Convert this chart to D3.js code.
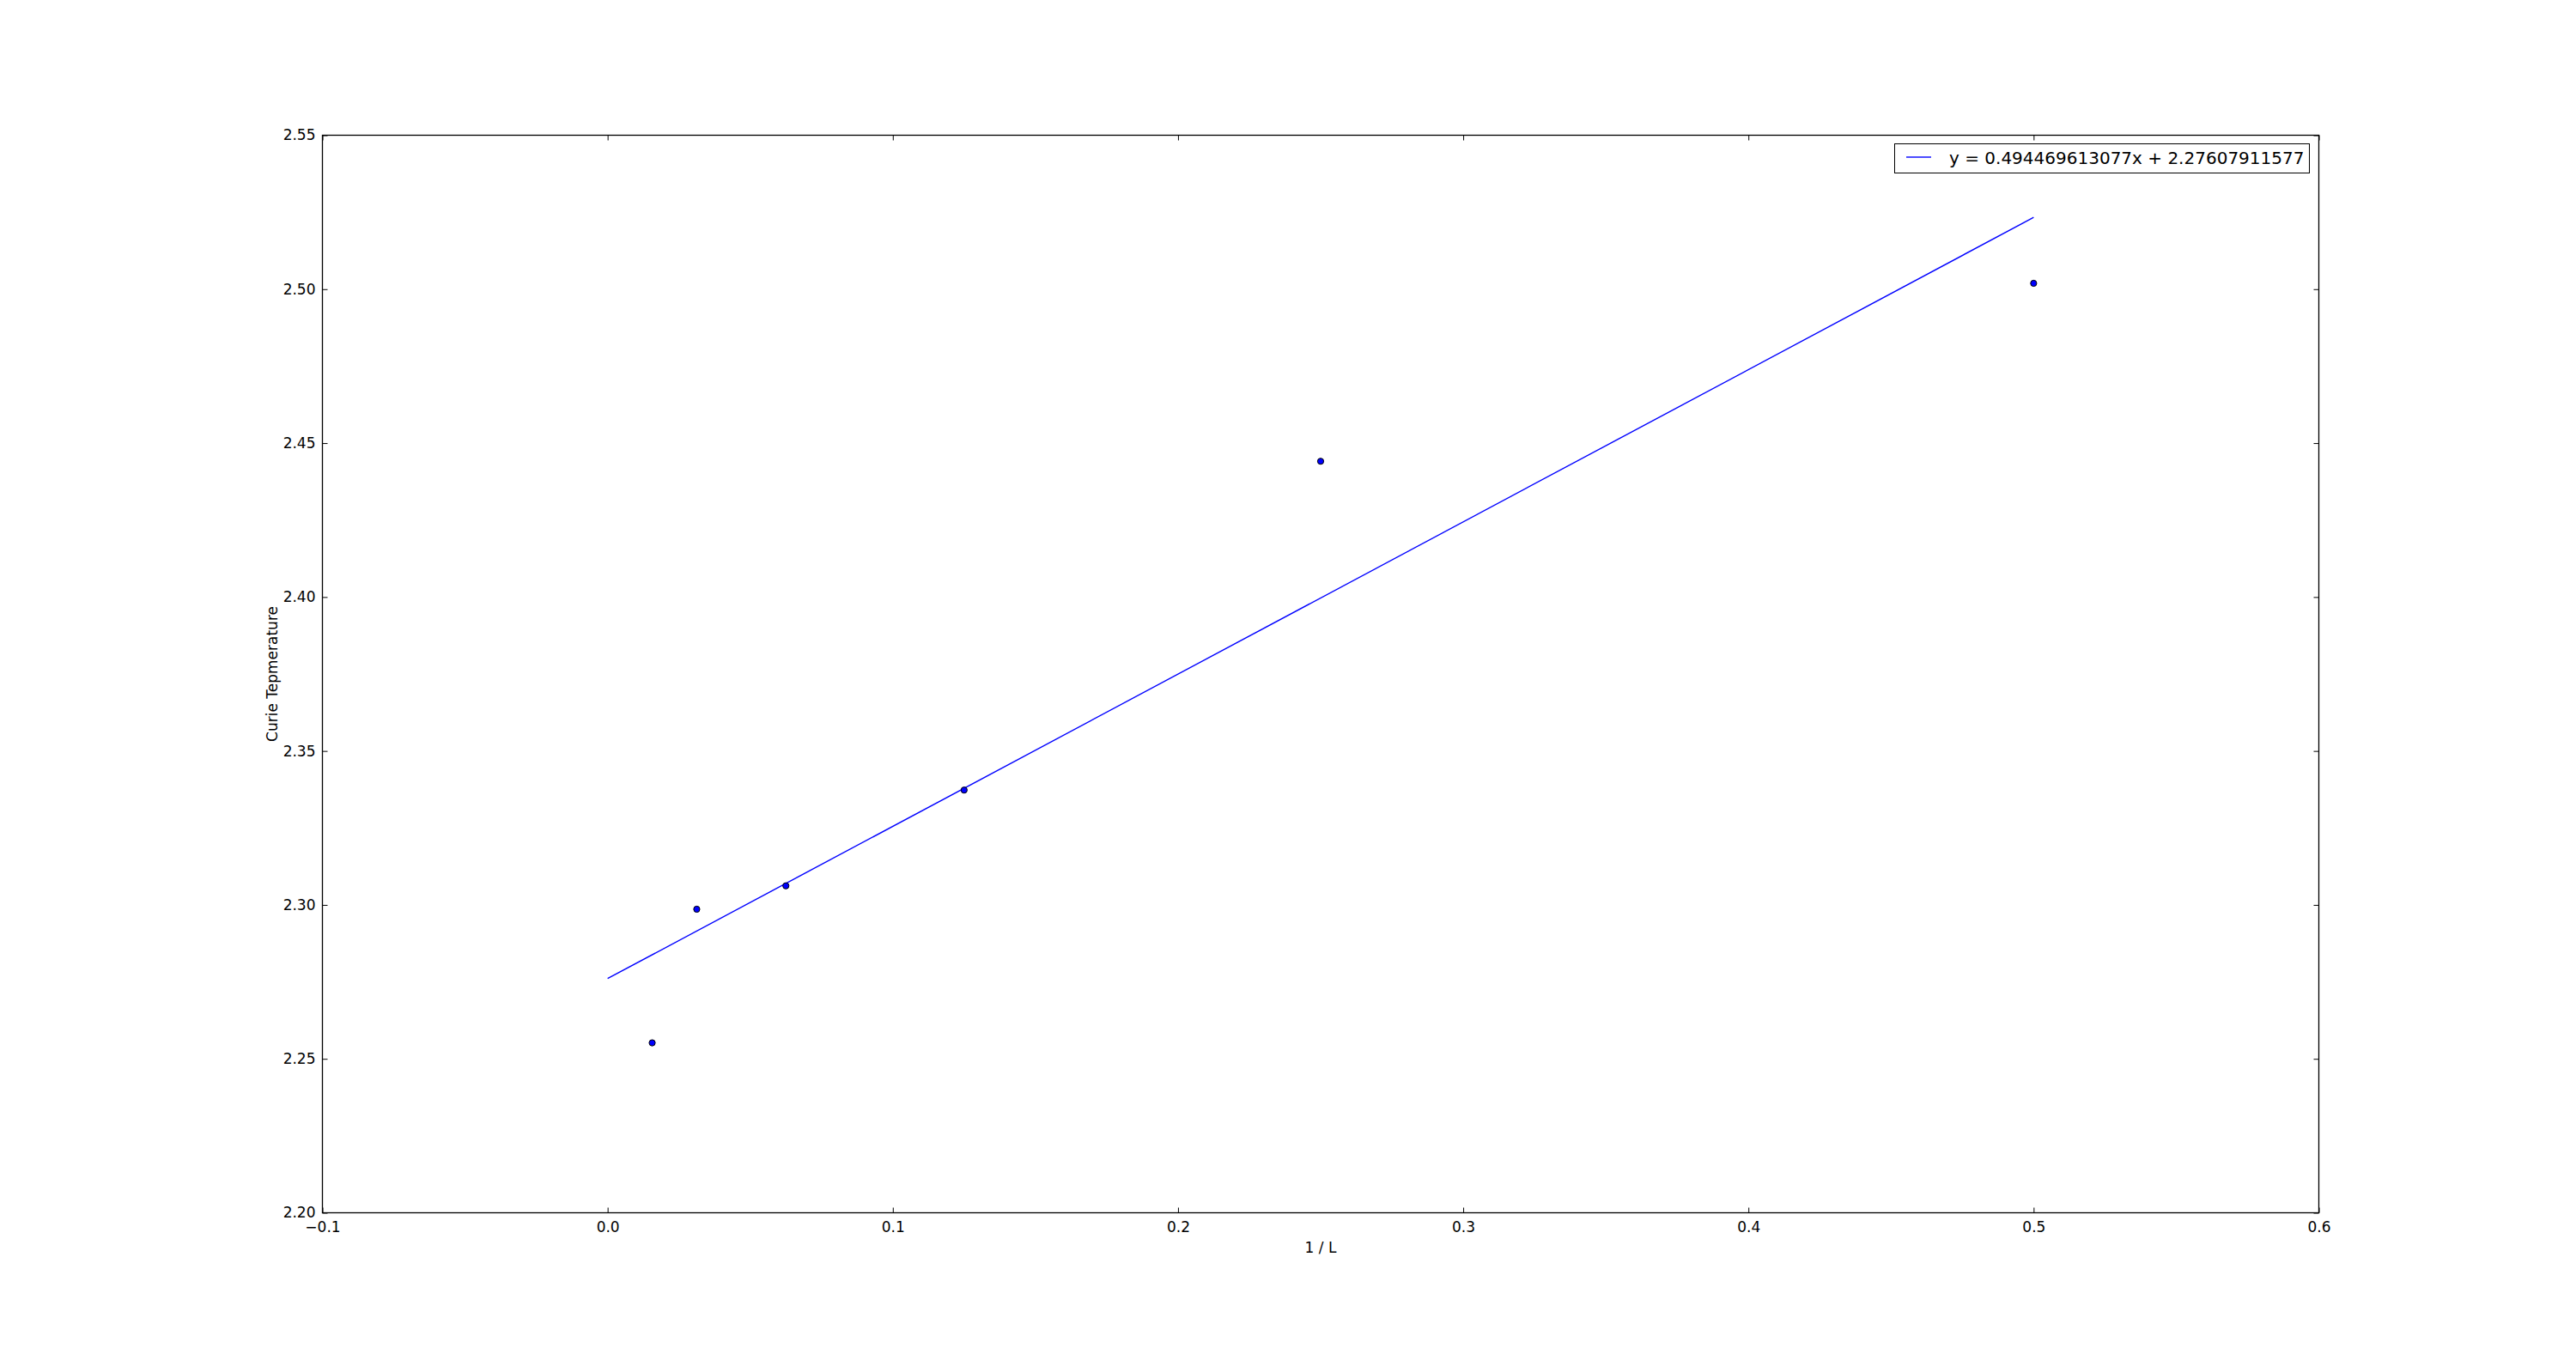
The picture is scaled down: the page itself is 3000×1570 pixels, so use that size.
<!DOCTYPE html>
<html><head><meta charset="utf-8">
<script src="https://cdn.jsdelivr.net/npm/d3@7"></script>
<style>body{margin:0;background:#fff}svg{display:block}</style>
</head><body>
<script>
const xValues = [0.015625, 0.03125, 0.0625, 0.125, 0.25, 0.5];
const yValues = [2.2552, 2.2986, 2.3062, 2.3373, 2.4441, 2.5019];
const slope = 0.494469613077, intercept = 2.27607911577;
const fitX = [0.0, 0.5];
const xTicks = [-0.1, 0.0, 0.1, 0.2, 0.3, 0.4, 0.5, 0.6];
const yTicks = [2.20, 2.25, 2.30, 2.35, 2.40, 2.45, 2.50, 2.55];
const legendLabel = "y = 0.494469613077x + 2.27607911577";

const W = 3000, H = 1570;
const L = 375.5, R = 2700.5, T = 157.5, B = 1412.5;
const font = "'DejaVu Sans', sans-serif";
const svg = d3.select("body").append("svg").attr("width", W).attr("height", H);
const x = d3.scaleLinear().domain([-0.1, 0.6]).range([L, R]);
const y = d3.scaleLinear().domain([2.20, 2.55]).range([B, T]);
const fmtX = v => d3.format(".1f")(v).replace("-", "\u2212");
const fmtY = d3.format(".2f");

// fit line
svg.append("path").datum(fitX)
  .attr("d", d3.line().x(d => x(d)).y(d => y(slope * d + intercept)))
  .attr("stroke", "#0000ff").attr("stroke-width", 1.4).attr("fill", "none");

// points
svg.append("g").selectAll("circle").data(xValues).join("circle")
  .attr("cx", d => x(d)).attr("cy", (d, i) => y(yValues[i])).attr("r", 3.6)
  .attr("fill", "#0000ff").attr("stroke", "#000").attr("stroke-width", 1);

// axes with inward ticks
const tk = 6;
const axB = d3.axisBottom(x).tickValues(xTicks).tickFormat(fmtX).tickSizeInner(-tk).tickSizeOuter(0).tickPadding(10);
const axT = d3.axisTop(x).tickValues(xTicks).tickFormat("").tickSizeInner(-tk).tickSizeOuter(0);
const axL = d3.axisLeft(y).tickValues(yTicks).tickFormat(fmtY).tickSizeInner(-tk).tickSizeOuter(0).tickPadding(8);
const axR = d3.axisRight(y).tickValues(yTicks).tickFormat("").tickSizeInner(-tk).tickSizeOuter(0);
function style(g){ g.select(".domain").remove(); g.selectAll("line").attr("stroke","#000").attr("stroke-width",1);
  g.selectAll("text").attr("font-family", font).attr("font-size", 17).attr("fill","#000"); }
svg.append("g").attr("transform", `translate(0,${B})`).call(axB).call(style);
svg.append("g").attr("transform", `translate(0,${T})`).call(axT).call(style);
svg.append("g").attr("transform", `translate(${L},0)`).call(axL).call(style);
svg.append("g").attr("transform", `translate(${R},0)`).call(axR).call(style);

// frame
svg.append("rect").attr("x", L).attr("y", T).attr("width", R - L).attr("height", B - T)
  .attr("fill", "none").attr("stroke", "#000").attr("stroke-width", 1.3);

// axis labels
svg.append("text").attr("x", (L + R) / 2).attr("y", 1459).attr("text-anchor", "middle")
  .attr("font-family", font).attr("font-size", 17).text("1 / L");
svg.append("text").attr("transform", `translate(323,${(T + B) / 2}) rotate(-90)`).attr("text-anchor", "middle")
  .attr("font-family", font).attr("font-size", 17).text("Curie Tepmerature");

// legend
const lg = svg.append("g");
lg.append("rect").attr("x", 2206.5).attr("y", 167.5).attr("width", 483).attr("height", 34)
  .attr("fill", "#fff").attr("stroke", "#000").attr("stroke-width", 1);
lg.append("line").attr("x1", 2220).attr("x2", 2249).attr("y1", 183).attr("y2", 183)
  .attr("stroke", "#0000ff").attr("stroke-width", 1.4);
lg.append("text").attr("x", 2270).attr("y", 191).attr("font-family", font).attr("font-size", 20)
  .text(legendLabel);
</script>
</body></html>
